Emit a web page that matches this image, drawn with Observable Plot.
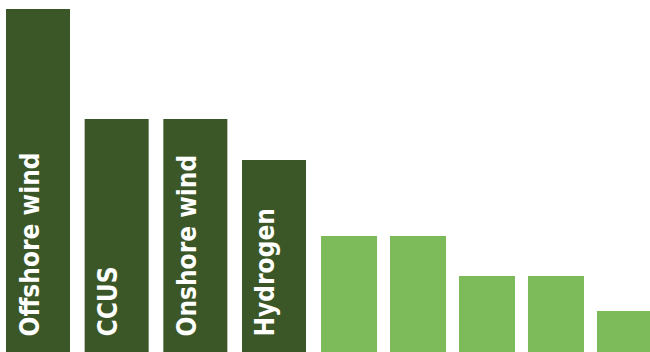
<!DOCTYPE html>
<html>
<head>
<meta charset="utf-8">
<script src="https://cdn.jsdelivr.net/npm/d3@7"></script>
<script src="https://cdn.jsdelivr.net/npm/@observablehq/plot@0.6"></script>
<style>
  html, body { margin: 0; padding: 0; background: #fff; overflow: hidden; width: 650px; height: 352px; }
  #row { display: flex; flex-direction: row; align-items: flex-start; width: 700px; }
  #row svg { display: block; flex: none; }
</style>
</head>
<body>
<div id="row"></div>
<script>
// Labelled (dark) sectors
const darkCategories = ["Offshore wind", "CCUS", "Onshore wind", "Hydrogen"];
const darkValues = [343, 233, 233, 192];
// Unlabelled (light) sectors
const lightCategories = ["Sector 5", "Sector 6", "Sector 7", "Sector 8", "Sector 9"];
const lightValues = [116, 116, 76, 76, 41];

const darkColor = "#3b5727";
const lightColor = "#7dbb5a";
const yDomain = [0, 352];
const font = "'DejaVu Sans Condensed', 'DejaVu Sans', sans-serif";

const dark = darkCategories.map((name, i) => ({name, value: darkValues[i]}));
const light = lightCategories.map((name, i) => ({name, value: lightValues[i]}));

const plotA = Plot.plot({
  width: 306,
  height: 352,
  marginLeft: 6,
  marginRight: 0,
  marginTop: 0,
  marginBottom: 0,
  x: {domain: darkCategories, paddingInner: 0.1864, paddingOuter: 0, round: false, axis: null},
  y: {domain: yDomain, axis: null},
  marks: [
    Plot.barY(dark, {x: "name", y: "value", fill: darkColor}),
    Plot.text(dark, {
      x: "name",
      frameAnchor: "bottom",
      text: "name",
      rotate: -90,
      textAnchor: "start",
      dy: -16,
      fill: "white",
      fontSize: 26,
      fontWeight: "bold",
      fontFamily: font
    })
  ]
});

const plotB = Plot.plot({
  width: 347,
  height: 352,
  marginLeft: 15,
  marginRight: 0,
  marginTop: 0,
  marginBottom: 0,
  x: {domain: lightCategories, paddingInner: 0.188, paddingOuter: 0, round: false, axis: null},
  y: {domain: yDomain, axis: null},
  marks: [
    Plot.barY(light, {x: "name", y: "value", fill: lightColor})
  ]
});

const row = document.getElementById("row");
row.appendChild(plotA);
row.appendChild(plotB);
</script>
</body>
</html>
